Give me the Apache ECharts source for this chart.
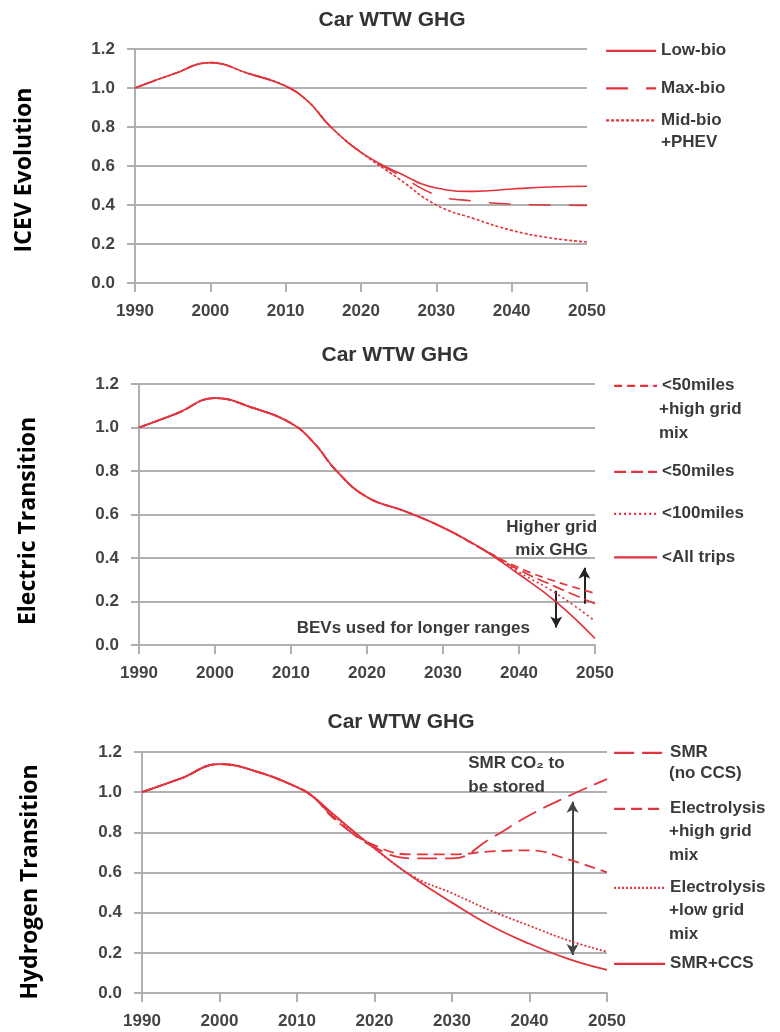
<!DOCTYPE html>
<html>
<head>
<meta charset="utf-8">
<script src="https://cdn.jsdelivr.net/npm/echarts@6/dist/echarts.min.js"></script>
<style>
html,body{margin:0;padding:0;background:#fff;}
#chart{width:780px;height:1032px;}
</style>
</head>
<body>
<div id="chart"></div>
<script>
// ---------- DATA ----------
const xTicks = [1990, 2000, 2010, 2020, 2030, 2040, 2050];
const yTicks = [0, 0.2, 0.4, 0.6, 0.8, 1.0, 1.2];

// Panel 1: ICEV Evolution
const icevYears = [1990, 1995, 2000, 2005, 2010, 2013, 2016, 2020, 2025, 2030, 2035, 2040, 2045, 2050];
const icevCommon = [1.00, 1.07, 1.13, 1.075, 1.01, 0.93, 0.80, 0.67];      // 1990-2020
const icevLowBio = [0.565, 0.487, 0.47, 0.482, 0.492, 0.496];              // 2025-2050
const icevMaxBio = [0.555, 0.452, 0.42, 0.405, 0.40, 0.398];
const icevMidBio = [0.535, 0.40, 0.33, 0.27, 0.232, 0.21];
const icevNames = ['Low-bio', 'Max-bio', 'Mid-bio\n+PHEV'];

// Panel 2: Electric Transition
const elecYears = [1990, 1995, 2000, 2005, 2010, 2013, 2016, 2020, 2025, 2030, 2035, 2040, 2045, 2050];
const elecCommon = [1.00, 1.065, 1.135, 1.09, 1.02, 0.93, 0.80, 0.68, 0.615, 0.54, 0.445]; // 1990-2035
const elecHighGrid = [0.355, 0.29, 0.238];                                   // 2040-2050
const elec50 = [0.345, 0.265, 0.19];
const elec100 = [0.335, 0.235, 0.11];
const elecAll = [0.325, 0.195, 0.03];
const elecNames = ['<50miles\n+high grid\nmix', '<50miles', '<100miles', '<All trips'];

// Panel 3: Hydrogen Transition
const h2Years = [1990, 1995, 2000, 2005, 2010, 2012, 2015, 2020, 2025, 2030, 2035, 2040, 2045, 2050];
const h2Common = [1.00, 1.068, 1.14, 1.10, 1.025, 0.98];                     // 1990-2012
const h2SmrNoCcs = [0.865, 0.725, 0.67, 0.67, 0.77, 0.885, 0.98, 1.065];     // 2015-2050
const h2ElecHigh = [0.86, 0.735, 0.69, 0.69, 0.705, 0.71, 0.665, 0.60];
const h2ElecLow = [0.875, 0.72, 0.58, 0.497, 0.41, 0.335, 0.262, 0.205];
const h2SmrCcs = [0.88, 0.72, 0.575, 0.45, 0.335, 0.245, 0.17, 0.115];
const h2Names = ['SMR\n(no CCS)', 'Electrolysis\n+high grid\nmix', 'Electrolysis\n+low grid\nmix', 'SMR+CCS'];

const panelTitles = ['Car WTW GHG', 'Car WTW GHG', 'Car WTW GHG'];
const sideLabels = ['ICEV Evolution', 'Electric Transition', 'Hydrogen Transition'];

// annotations (data coordinates)
const elecArrowUp = [[2048.6, 0.19], [2048.6, 0.355]];
const elecArrowDown = [[2044.9, 0.25], [2044.9, 0.08]];
const elecNoteGrid = [2044.3, 0.49];
const elecNoteBev = [2026.1, 0.078];
const h2Arrow = [[2045.55, 0.952], [2045.55, 0.189]];
const h2Note = [2032.1, 1.085];

// ---------- HELPERS ----------
function pairs(years, vals) { return vals.map((v, i) => [years[i], v]); }

const RED = '#e2343c';
const GRID = '#b0b0b0';
const TXT = '#3a3a3a';
const FONT = 'Liberation Sans, Arial, sans-serif';

const grids = [
  {left: 135, top: 49, width: 452, height: 234},
  {left: 139, top: 384, width: 456, height: 261},
  {left: 142, top: 752, width: 465, height: 241}
];

function xAxisFor(i) {
  return {
    gridIndex: i, type: 'value', min: xTicks[0], max: xTicks[xTicks.length - 1], interval: 10,
    axisLine: {show: true, lineStyle: {color: GRID, width: 2}},
    axisTick: {show: true, length: 9, lineStyle: {color: GRID, width: 2}},
    splitLine: {show: false},
    axisLabel: {margin: 20, fontSize: 17, fontWeight: 'bold', color: '#444', fontFamily: FONT,
      formatter: v => String(v)}
  };
}
function yAxisFor(i) {
  return {
    gridIndex: i, type: 'value', min: yTicks[0], max: yTicks[yTicks.length - 1], interval: 0.2,
    axisLine: {show: true, lineStyle: {color: GRID, width: 2}},
    axisTick: {show: true, length: 8, lineStyle: {color: GRID, width: 2}},
    splitLine: {show: true, lineStyle: {color: GRID, width: 2}},
    axisLabel: {margin: 20, fontSize: 17, fontWeight: 'bold', color: '#444', fontFamily: FONT,
      formatter: v => v.toFixed(1)}
  };
}
function lineSeries(name, idx, data, dash, width) {
  return {
    name: name, type: 'line', xAxisIndex: idx, yAxisIndex: idx,
    data: data, smooth: 0.45, symbol: 'none', showSymbol: false,
    lineStyle: {color: RED, width: width || 1.7, type: dash || 'solid'},
    itemStyle: {color: RED}, z: 5
  };
}
function arrowLine(pts, symbols) {
  return [{coord: pts[0], symbol: symbols[0]}, {coord: pts[1], symbol: symbols[1]}];
}
const noteText = {fontSize: 17, fontWeight: 'bold', color: TXT, fontFamily: FONT};

// ---------- SERIES ----------
const series = [];
// panel 1
series.push(lineSeries(icevNames[0], 0, pairs(icevYears, icevCommon.concat(icevLowBio)), 'solid', 1.6));
series.push(lineSeries(icevNames[1], 0, pairs(icevYears, icevCommon.concat(icevMaxBio)), [22, 18], 1.6));
series.push(lineSeries(icevNames[2], 0, pairs(icevYears, icevCommon.concat(icevMidBio)), [3, 2], 1.6));
// panel 2
const s2a = lineSeries(elecNames[0], 1, pairs(elecYears, elecCommon.concat(elecHighGrid)), [8, 5], 1.7);
s2a.markLine = {
  silent: true, animation: false, symbolSize: [9, 11],
  lineStyle: {color: '#222', width: 2, type: 'solid'}, label: {show: false},
  data: [arrowLine(elecArrowUp, ['none', 'arrow']), arrowLine(elecArrowDown, ['none', 'arrow'])]
};
s2a.markPoint = {
  silent: true, animation: false, symbol: 'circle', symbolSize: 1, itemStyle: {color: 'rgba(0,0,0,0)'},
  data: [
    {coord: elecNoteGrid, label: Object.assign({show: true, position: 'inside', align: 'center', verticalAlign: 'middle', lineHeight: 23, formatter: 'Higher grid\nmix GHG'}, noteText)},
    {coord: elecNoteBev, label: Object.assign({show: true, position: 'inside', align: 'center', verticalAlign: 'middle', formatter: 'BEVs used for longer ranges'}, noteText)}
  ]
};
series.push(s2a);
series.push(lineSeries(elecNames[1], 1, pairs(elecYears, elecCommon.concat(elec50)), [12, 5], 1.7));
series.push(lineSeries(elecNames[2], 1, pairs(elecYears, elecCommon.concat(elec100)), [2, 3], 1.7));
series.push(lineSeries(elecNames[3], 1, pairs(elecYears, elecCommon.concat(elecAll)), 'solid', 1.7));
// panel 3
const s3a = lineSeries(h2Names[0], 2, pairs(h2Years, h2Common.concat(h2SmrNoCcs)), [20, 8], 1.8);
s3a.markLine = {
  silent: true, animation: false, symbolSize: [9, 11],
  lineStyle: {color: '#444', width: 2, type: 'solid'}, label: {show: false},
  data: [arrowLine(h2Arrow, ['arrow', 'arrow'])]
};
s3a.markPoint = {
  silent: true, animation: false, symbol: 'circle', symbolSize: 1, itemStyle: {color: 'rgba(0,0,0,0)'},
  data: [
    {coord: h2Note, label: Object.assign({show: true, position: 'inside', align: 'left', verticalAlign: 'middle', lineHeight: 24, formatter: 'SMR CO\u2082 to\nbe stored'}, noteText)}
  ]
};
series.push(s3a);
series.push(lineSeries(h2Names[1], 2, pairs(h2Years, h2Common.concat(h2ElecHigh)), [11, 6], 1.8));
series.push(lineSeries(h2Names[2], 2, pairs(h2Years, h2Common.concat(h2ElecLow)), [2, 2], 1.8));
series.push(lineSeries(h2Names[3], 2, pairs(h2Years, h2Common.concat(h2SmrCcs)), 'solid', 1.8));

// ---------- LEGENDS ----------
function legendItem(name, left, centerY, itemWidth) {
  return {
    data: [name], left: left, top: centerY - 8, orient: 'vertical', padding: 0,
    itemWidth: itemWidth, itemHeight: 22, itemGap: 0, selectedMode: false,
    itemStyle: {opacity: 0, borderWidth: 0},
    lineStyle: {width: 2.2},
    formatter: n => n.split('\n')[0],
    textStyle: {fontSize: 17, fontWeight: 'bold', color: TXT, fontFamily: FONT}
  };
}
const legends = [
  legendItem(icevNames[0], 605, 50, 50),
  legendItem(icevNames[1], 605, 87.5, 50),
  legendItem(icevNames[2], 605, 119.5, 50),
  legendItem(elecNames[0], 613, 385, 43),
  legendItem(elecNames[1], 613, 471, 43),
  legendItem(elecNames[2], 613, 513, 43),
  legendItem(elecNames[3], 613, 556.5, 43),
  legendItem(h2Names[0], 613, 752, 51),
  legendItem(h2Names[1], 613, 808, 51),
  legendItem(h2Names[2], 613, 887, 51),
  legendItem(h2Names[3], 613, 963, 51)
];
// continuation lines of multi-line legend names
function contText(name, x, y0, gap) {
  return name.split('\n').slice(1).map((t, k) => ({
    type: 'text', x: x, y: y0 + gap * (k + 1), silent: true,
    style: {text: t, fill: TXT, font: 'bold 17px ' + FONT, textAlign: 'left', textVerticalAlign: 'middle'}
  }));
}
const graphics = []
  .concat(contText(icevNames[2], 661, 119.5, 22.5))
  .concat(contText(elecNames[0], 659, 385, 24))
  .concat(contText(h2Names[0], 669, 752, 21.5))
  .concat(contText(h2Names[1], 669, 808, 23.5))
  .concat(contText(h2Names[2], 669, 887, 23.5));
// rotated side labels
const sidePos = [[24, 170], [28, 521], [30, 882]];
sideLabels.forEach((t, i) => {
  graphics.push({
    type: 'text', x: sidePos[i][0], y: sidePos[i][1], rotation: Math.PI / 2, silent: true,
    style: {text: t, fill: '#000', font: 'bold 23px "Open Sans", sans-serif', textAlign: 'center', textVerticalAlign: 'middle'}
  });
});

// ---------- OPTION ----------
const titleTops = [10, 345, 712];
const titleLefts = [392, 395, 401];
const option = {
  animation: false,
  backgroundColor: '#fff',
  title: panelTitles.map((t, i) => ({
    text: t, left: titleLefts[i], top: titleTops[i], textAlign: 'center', padding: 0,
    textStyle: {fontSize: 21, fontWeight: 'bold', color: '#333', fontFamily: FONT}
  })),
  grid: grids,
  xAxis: [0, 1, 2].map(xAxisFor),
  yAxis: [0, 1, 2].map(yAxisFor),
  legend: legends,
  series: series,
  graphic: graphics
};

const chart = echarts.init(document.getElementById('chart'), null, {renderer: 'canvas'});
chart.setOption(option);
</script>
</body>
</html>
